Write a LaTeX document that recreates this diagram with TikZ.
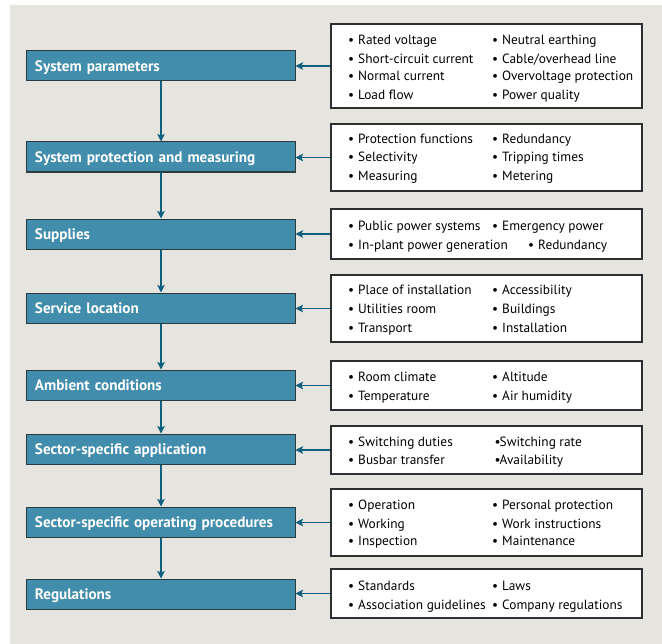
\documentclass[tikz,border=0pt]{standalone}
\usepackage{fontspec}
\setmainfont{PT Sans}
\usetikzlibrary{arrows.meta}
\definecolor{bgc}{HTML}{E5E4DE}
\definecolor{boxfill}{HTML}{428DAC}
\definecolor{boxline}{HTML}{2C3B40}
\definecolor{arrowc}{HTML}{0F5F7E}
\definecolor{framec}{HTML}{2E2E2E}
\newcommand\itm[4]{\node[itm] (#1) at (#2,#3) {\makebox[10bp][l]{\textbullet}#4};}
\newcommand\itmn[4]{\node[itm] (#1) at (#2,#3) {\makebox[5bp][l]{\textbullet}#4};}
\begin{document}
\begin{tikzpicture}[x=1bp,y=-1bp,
  stagebox/.style={draw=boxline, line width=1bp, fill=boxfill, minimum height=30bp,
    inner xsep=8bp, inner ysep=0pt, text width=252bp, text height=12.6bp, text depth=2bp,
    align=left, text=white, font=\fontsize{15.2}{17}\selectfont\bfseries},
  listbox/.style={draw=framec, line width=1.2bp, fill=white, minimum width=311bp, inner sep=0pt},
  itm/.style={anchor=mid west, inner sep=0pt, yshift=-1.3bp, text=black, font=\fontsize{13.4}{15}\selectfont},
  conn/.style={draw=arrowc, line width=1.1bp, -{Stealth[length=7.5bp,width=7.5bp,inset=1.5bp]}, fill=arrowc}
]
\fill[white] (0,0) rectangle (662,644);
\fill[bgc] (10,5) rectangle (662,644);
\useasboundingbox (0,0) rectangle (662,644);

% left stage boxes
\node[stagebox] (L1) at (161,66) {System parameters};
\node[stagebox] (L2) at (161,157) {System protection and measuring};
\node[stagebox] (L3) at (161,234) {Supplies};
\node[stagebox] (L4) at (161,308) {Service location};
\node[stagebox] (L5) at (161,385) {Ambient conditions};
\node[stagebox] (L6) at (161,449) {Sector-specific application};
\node[stagebox] (L7) at (161,522) {Sector-specific operating procedures};
\node[stagebox] (L8) at (161,594) {Regulations};

% right list boxes
\node[listbox, minimum height=84bp] (R1) at (486.5,66) {};
\node[listbox, minimum height=67bp] (R2) at (486.5,157.5) {};
\node[listbox, minimum height=50bp] (R3) at (486.5,234) {};
\node[listbox, minimum height=67bp] (R4) at (486.5,308.5) {};
\node[listbox, minimum height=49bp] (R5) at (486.5,385.5) {};
\node[listbox, minimum height=48bp] (R6) at (486.5,450) {};
\node[listbox, minimum height=67bp] (R7) at (486.5,522.5) {};
\node[listbox, minimum height=49bp] (R8) at (486.5,593.5) {};

% items box 1
\itm{a1}{348}{41}{Rated voltage}
\itm{a2}{348}{59.3}{Short-circuit current}
\itm{a3}{348}{77}{Normal current}
\itm{a4}{348}{95.3}{Load flow}
\itm{a5}{492}{41}{Neutral earthing}
\itm{a6}{492}{59.3}{Cable/overhead line}
\itm{a7}{492}{77}{Overvoltage protection}
\itm{a8}{492}{95.3}{Power quality}
% box 2
\itm{b1}{348}{139.6}{Protection functions}
\itm{b2}{348}{158}{Selectivity}
\itm{b3}{348}{176.3}{Measuring}
\itm{b4}{492}{139.6}{Redundancy}
\itm{b5}{492}{158}{Tripping times}
\itm{b6}{492}{176.3}{Metering}
% box 3
\itm{c1}{348}{227}{Public power systems}
\itm{c2}{348}{245.3}{In-plant power generation}
\itm{c3}{492}{227}{Emergency power}
\itm{c4}{528}{245.3}{Redundancy}
% box 4
\itm{d1}{348}{291}{Place of installation}
\itm{d2}{348}{309.6}{Utilities room}
\itm{d3}{348}{328.6}{Transport}
\itm{d4}{492}{291}{Accessibility}
\itm{d5}{492}{309.6}{Buildings}
\itm{d6}{492}{328.6}{Installation}
% box 5
\itm{e1}{348}{377.6}{Room climate}
\itm{e2}{348}{396.3}{Temperature}
\itm{e3}{492}{377.6}{Altitude}
\itm{e4}{492}{396.3}{Air humidity}
% box 6
\itm{f1}{348}{443}{Switching duties}
\itm{f2}{348}{461}{Busbar transfer}
\itmn{f3}{494.5}{443}{Switching rate}
\itmn{f4}{494.5}{461}{Availability}
% box 7
\itm{g1}{348}{505.3}{Operation}
\itm{g2}{348}{524.6}{Working}
\itm{g3}{348}{542}{Inspection}
\itm{g4}{492}{505.3}{Personal protection}
\itm{g5}{492}{524.6}{Work instructions}
\itm{g6}{492}{542}{Maintenance}
% box 8
\itm{h1}{348}{587}{Standards}
\itm{h2}{348}{606}{Association guidelines}
\itm{h3}{492}{587}{Laws}
\itm{h4}{492}{606}{Company regulations}

% vertical connectors
\foreach \a/\b in {L1/L2,L2/L3,L3/L4,L4/L5,L5/L6,L6/L7,L7/L8}
  \draw[conn] (\a) -- (\b);
% horizontal connectors
\foreach \i in {1,...,8}
  \draw[conn] (R\i.west) -- (R\i.west -| L\i.east);
\end{tikzpicture}
\end{document}
